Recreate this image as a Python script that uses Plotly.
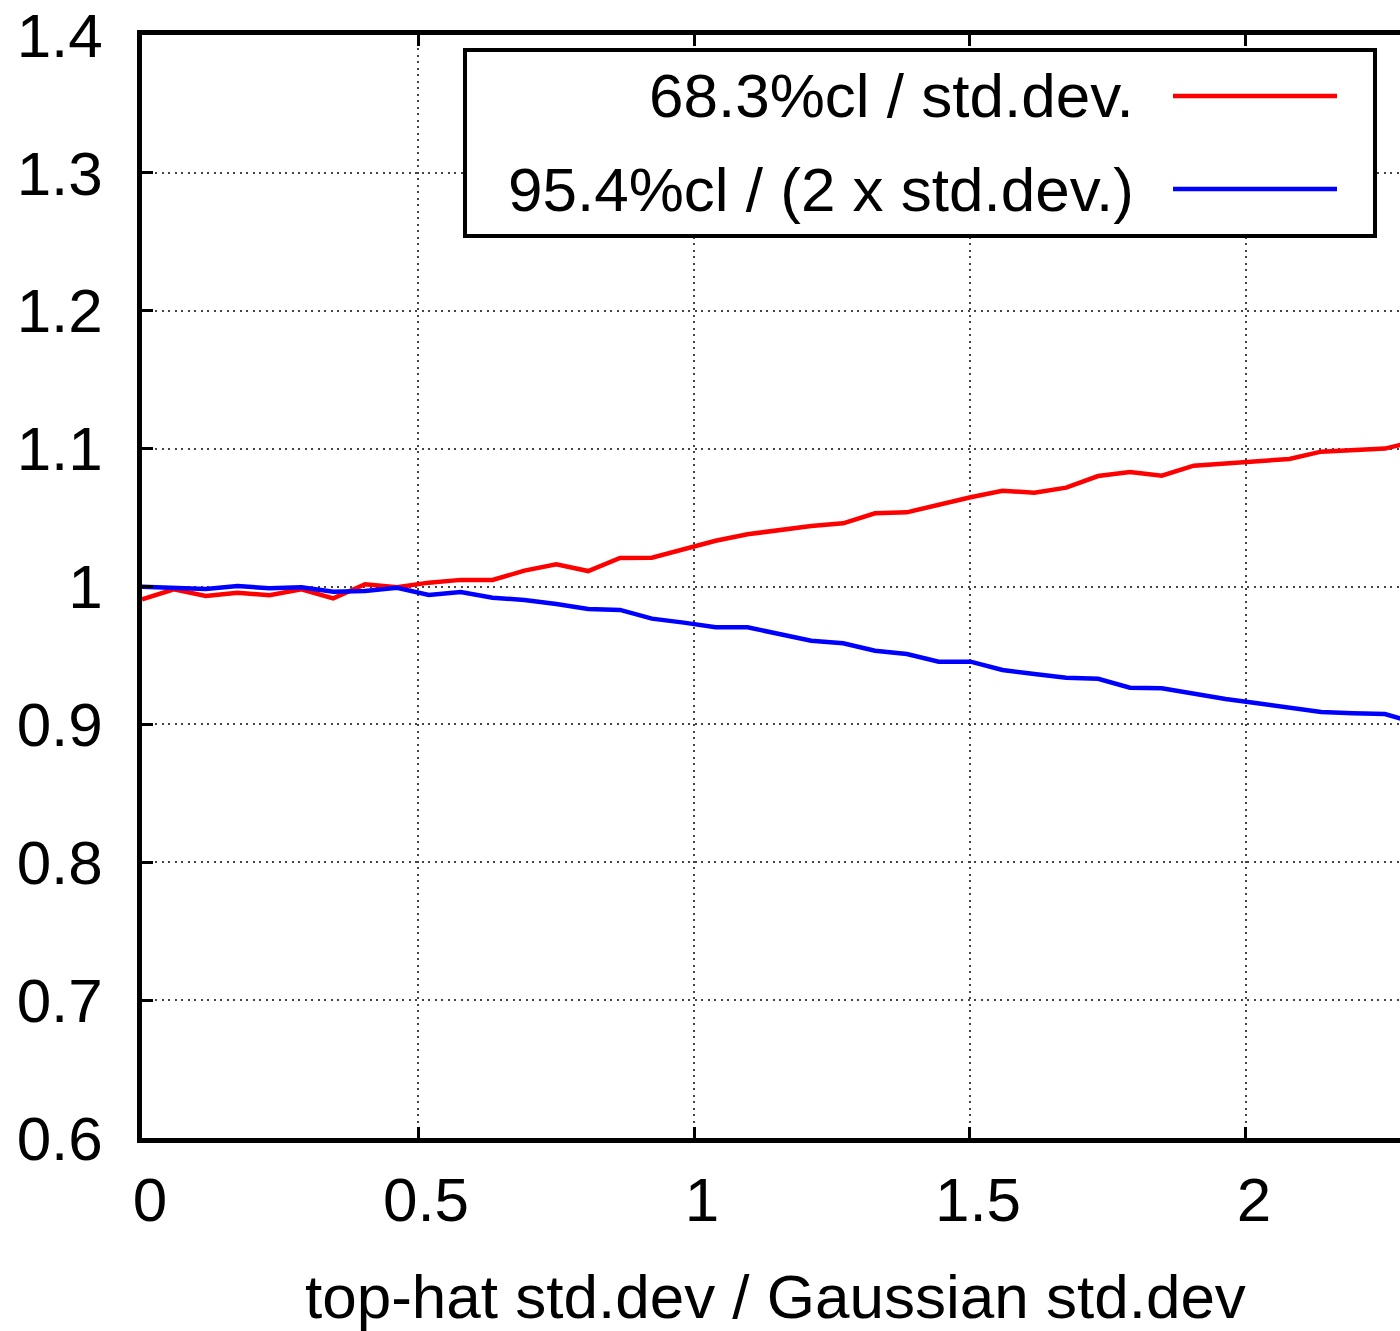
import plotly.graph_objects as go

# Ratio of the top-hat width to the Gaussian width (sample points)
ratio = [0.0000, 0.0577, 0.1155, 0.1732, 0.2309, 0.2887, 0.3464, 0.4041, 0.4619, 0.5196,
         0.5774, 0.6351, 0.6928, 0.7506, 0.8083, 0.8660, 0.9238, 0.9815, 1.0392, 1.0970,
         1.1547, 1.2124, 1.2702, 1.3279, 1.3856, 1.4434, 1.5011, 1.5588, 1.6166, 1.6743,
         1.7321, 1.7898, 1.8475, 1.9053, 1.9630, 2.0207, 2.0785, 2.1362, 2.1939, 2.2517,
         2.3094]

# 68.3% confidence limit divided by the standard deviation
cl68 = [0.9907, 0.9980, 0.9931, 0.9955, 0.9936, 0.9980, 0.9914, 1.0016, 0.9994, 1.0028,
        1.0048, 1.0047, 1.0115, 1.0161, 1.0112, 1.0207, 1.0209, 1.0272, 1.0332, 1.0379,
        1.0410, 1.0439, 1.0458, 1.0531, 1.0538, 1.0596, 1.0647, 1.0695, 1.0680, 1.0717,
        1.0801, 1.0831, 1.0804, 1.0876, 1.0894, 1.0910, 1.0925, 1.0978, 1.0990, 1.1000,
        1.1055]

# 95.4% confidence limit divided by twice the standard deviation
cl95 = [0.9999, 0.9987, 0.9982, 1.0004, 0.9987, 0.9994, 0.9962, 0.9967, 0.9991, 0.9938,
        0.9960, 0.9919, 0.9902, 0.9873, 0.9837, 0.9830, 0.9767, 0.9738, 0.9704, 0.9704,
        0.9655, 0.9607, 0.9588, 0.9534, 0.9510, 0.9455, 0.9455, 0.9394, 0.9365, 0.9338,
        0.9331, 0.9266, 0.9262, 0.9220, 0.9184, 0.9153, 0.9124, 0.9090, 0.9080, 0.9075,
        0.9009]

series_names = ["68.3%cl / std.dev.", "95.4%cl / (2 x std.dev.)"]

x_tickvals = [0, 0.5, 1, 1.5, 2]
x_ticktext = ["0", "0.5", "1", "1.5", "2"]
y_tickvals = [0.6, 0.7, 0.8, 0.9, 1.0, 1.1, 1.2, 1.3, 1.4]
y_ticktext = ["0.6", "0.7", "0.8", "0.9", "1", "1.1", "1.2", "1.3", "1.4"]

x_title = "top-hat std.dev / Gaussian std.dev"

FONT = "Liberation Sans, Arial, Helvetica, sans-serif"
FS = 62
W, H = 1400, 1331
L, R, T, B = 142, 0, 35, 193
plot_w = W - L - R
plot_h = H - T - B

fig = go.Figure()
fig.add_trace(go.Scatter(x=ratio, y=cl68, mode="lines", name=series_names[0],
                         line=dict(color="#ff0000", width=4.5), showlegend=False))
fig.add_trace(go.Scatter(x=ratio, y=cl95, mode="lines", name=series_names[1],
                         line=dict(color="#0000ff", width=4.5), showlegend=False))

axis_common = dict(
    showline=True, linecolor="black", linewidth=4.5,
    ticks="inside", ticklen=11, tickwidth=3, tickcolor="black",
    showgrid=True, gridcolor="#444444", gridwidth=1.5, griddash="2px,4.5px",
    zeroline=False,
    tickfont=dict(family=FONT, size=FS, color="black"),
)

fig.update_xaxes(range=[0, 2.279], tickvals=x_tickvals, ticktext=x_ticktext,
                 mirror="ticks", ticklabelstandoff=4, ticklabelshift=8, **axis_common)
fig.update_yaxes(range=[0.6, 1.4], tickvals=y_tickvals, ticktext=y_ticktext,
                 mirror=False, ticklabelstandoff=22, **axis_common)


def px_x(p):
    return (p - L) / plot_w


def px_y(p):
    return (H - B - p) / plot_h


# Boxed key in the upper right, text right-aligned with the line samples after it
shapes = [
    dict(type="rect", xref="paper", yref="paper",
         x0=px_x(465), x1=px_x(1375), y0=px_y(236), y1=px_y(50),
         line=dict(color="black", width=4), fillcolor="white", layer="above"),
]
annotations = []
key_rows = [(96, "#ff0000"), (189, "#0000ff")]
for (ypix, color), name in zip(key_rows, series_names):
    shapes.append(dict(type="line", xref="paper", yref="paper",
                       x0=px_x(1173), x1=px_x(1337), y0=px_y(ypix), y1=px_y(ypix),
                       line=dict(color=color, width=4.5), layer="above"))
    annotations.append(dict(text=name, xref="paper", yref="paper",
                            x=px_x(1136), y=px_y(ypix), xanchor="right", yanchor="middle",
                            showarrow=False,
                            font=dict(family=FONT, size=FS, color="black")))

annotations.append(dict(text=x_title, xref="paper", yref="paper",
                        x=px_x(776), y=px_y(1296), xanchor="center", yanchor="middle",
                        showarrow=False, font=dict(family=FONT, size=FS, color="black")))

fig.update_layout(
    width=W, height=H,
    margin=dict(l=L, r=R, t=T, b=B, pad=0),
    paper_bgcolor="white", plot_bgcolor="white",
    shapes=shapes, annotations=annotations,
    showlegend=False,
)

fig.write_html("out.html")
